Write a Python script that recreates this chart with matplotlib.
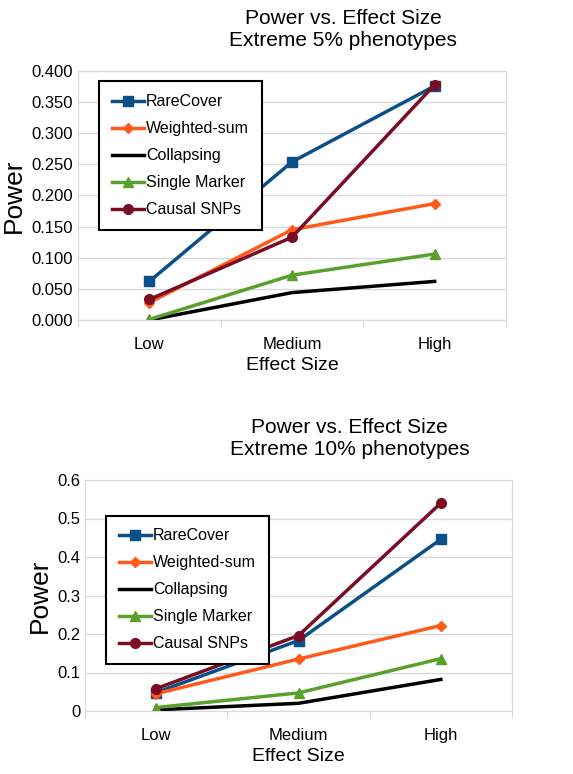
import matplotlib
matplotlib.use("Agg")
import matplotlib.pyplot as plt
import numpy as np

plt.rcParams['font.family'] = ['Liberation Sans', 'DejaVu Sans']

categories = ["Low", "Medium", "High"]
series_names = ["RareCover", "Weighted-sum", "Collapsing", "Single Marker", "Causal SNPs"]
top_rarecover = [0.062, 0.254, 0.376]
top_weighted = [0.028, 0.145, 0.187]
top_collapsing = [0.000, 0.044, 0.062]
top_single = [0.001, 0.072, 0.106]
top_causal = [0.033, 0.133, 0.378]
bot_rarecover = [0.048, 0.183, 0.446]
bot_weighted = [0.045, 0.135, 0.222]
bot_collapsing = [0.003, 0.020, 0.082]
bot_single = [0.009, 0.047, 0.136]
bot_causal = [0.058, 0.196, 0.540]

colors = ["#0b4f8a", "#ff5a1a", "#000000", "#5aa02c", "#7a0d24"]
markers = ["s", "D", None, "^", "o"]
msizes = [7, 5, 0, 7, 7]

fig = plt.figure(figsize=(5.73, 7.74), dpi=100)
ax1 = fig.add_axes([78/573, 1-320/774, 428/573, 249/774])
ax2 = fig.add_axes([85/573, 1-711/774, 427/573, 231/774])

def draw(ax, data, ymax, step, fmt, title, legend_box):
    x = range(len(categories))
    for name, vals, c, m, ms in zip(series_names, data, colors, markers, msizes):
        ax.plot(x, vals, color=c, lw=2.5, marker=m, markersize=ms, label=name)
    ax.set_xlim(-0.5, 2.5)
    ax.set_ylim(0, ymax)
    ticks = np.arange(0, ymax + step/2, step)
    ax.set_yticks(ticks)
    ax.set_yticklabels([fmt.format(t) for t in ticks], fontsize=12)
    ax.set_xticks(list(x))
    ax.set_xticklabels(categories, fontsize=12)
    ax.set_xticks([-0.5, 0.5, 1.5, 2.5], minor=True)
    ax.tick_params(axis="x", which="major", length=0, pad=12)
    ax.tick_params(axis="x", which="minor", length=5, color="#cccccc")
    ax.tick_params(axis="y", length=0)
    ax.grid(axis="y", color="#d9d9d9", lw=1)
    ax.set_axisbelow(True)
    for s in ax.spines.values():
        s.set_color("#d9d9d9")
    ax.set_ylabel("Power", fontsize=19)
    ax.set_xlabel("Effect Size", fontsize=14)
    ax.set_title(title, fontsize=15, pad=18, x=0.62)
    leg = ax.legend(loc="upper left", bbox_to_anchor=legend_box, fontsize=11.5, frameon=True,
                    fancybox=False, handlelength=2, handletextpad=0.15, borderpad=0.8, labelspacing=0.75)
    leg.get_frame().set_edgecolor("black")
    leg.get_frame().set_linewidth(1.5)
    leg.get_frame().set_alpha(1)

draw(ax1, [top_rarecover, top_weighted, top_collapsing, top_single, top_causal], 0.4, 0.05, "{:.3f}",
     "Power vs. Effect Size\nExtreme 5% phenotypes", (0.03, 0.99))
draw(ax2, [bot_rarecover, bot_weighted, bot_collapsing, bot_single, bot_causal], 0.6, 0.1, "{:.1f}",
     "Power vs. Effect Size\nExtreme 10% phenotypes", (0.03, 0.88))
ax2.set_yticklabels(["0", "0.1", "0.2", "0.3", "0.4", "0.5", "0.6"])
fig.savefig("out.png", dpi=100)
